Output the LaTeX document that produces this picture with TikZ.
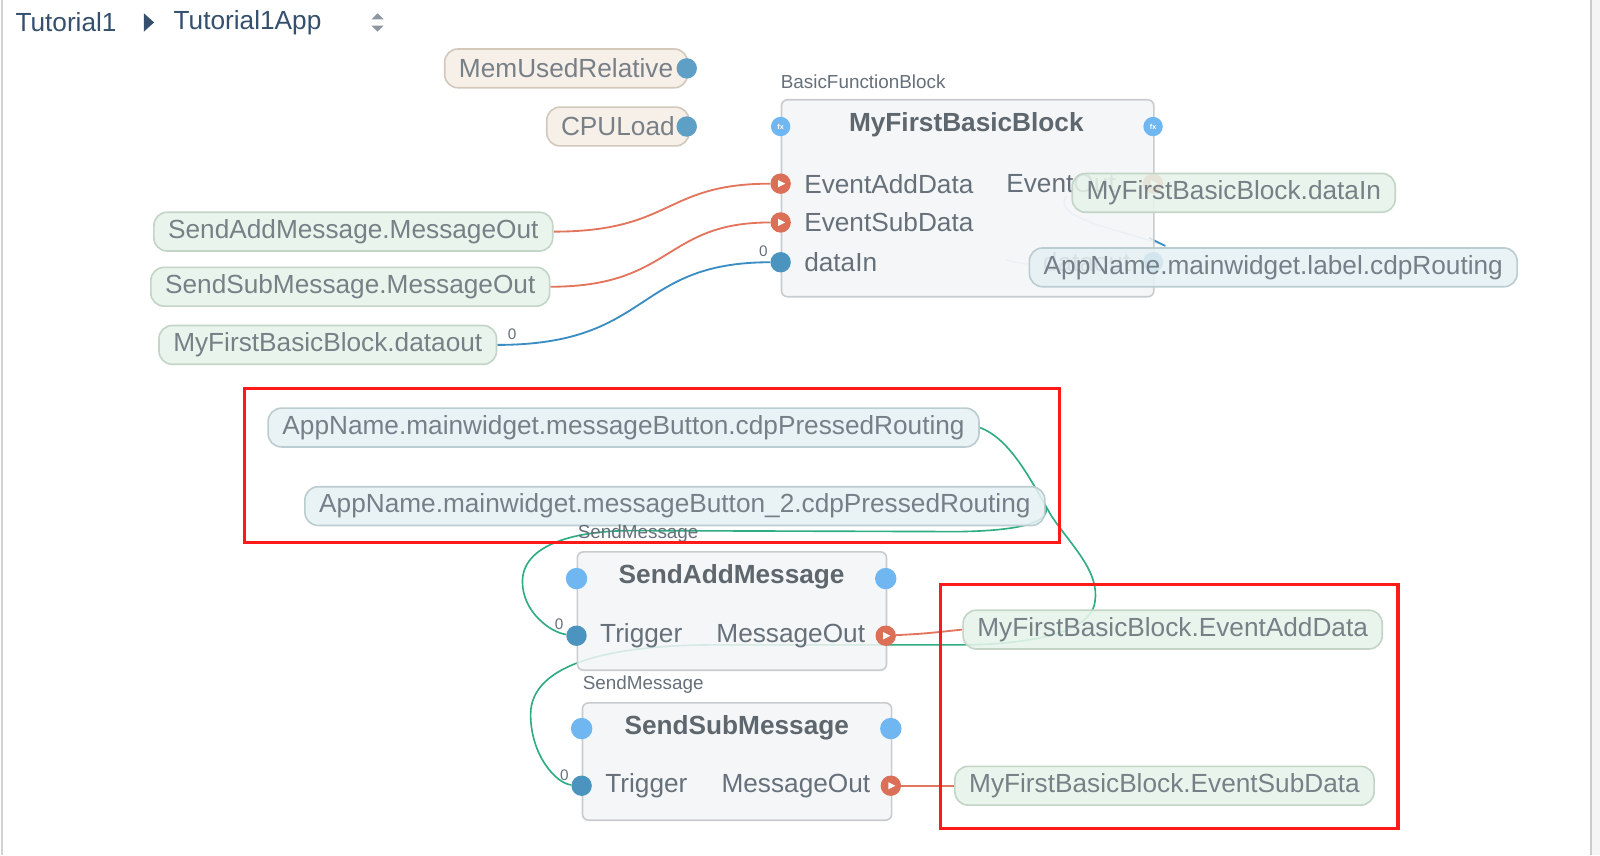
\documentclass[tikz,border=0pt]{standalone}
\usepackage{fontspec}
\setmainfont{Liberation Sans}
\usetikzlibrary{positioning, backgrounds, calc}
\definecolor{txtGray}{HTML}{66707A}
\definecolor{titleGray}{HTML}{5E666E}
\definecolor{crumbBlue}{HTML}{34506E}
\definecolor{crumbArrow}{HTML}{8B96A2}
\definecolor{pillGreen}{HTML}{E7F4EA}
\definecolor{pillGreenEdge}{HTML}{C3D5C7}
\definecolor{pillBlue}{HTML}{E6F1F4}
\definecolor{pillBlueEdge}{HTML}{BCCDD2}
\definecolor{pillBeige}{HTML}{F6EFE6}
\definecolor{pillBeigeEdge}{HTML}{D3C8BC}
\definecolor{blockFill}{HTML}{F3F5F7}
\definecolor{blockEdge}{HTML}{C9CCCF}
\definecolor{portRed}{HTML}{DB6F57}
\definecolor{portBlue}{HTML}{4B94BF}
\definecolor{portLight}{HTML}{70B7F2}
\definecolor{wireRed}{HTML}{E3755D}
\definecolor{wireBlue}{HTML}{3A8DC2}
\definecolor{wireGreen}{HTML}{2EAC82}
\definecolor{markRed}{HTML}{FF1A1A}
\newcommand{\nodefont}{\fontsize{25.7}{30}\selectfont}
\newcommand{\smallfont}{\fontsize{18.5}{22}\selectfont}
\newcommand{\zerofont}{\fontsize{15}{18}\selectfont}
\tikzset{
  pill/.style={rectangle, rounded corners=13pt, draw, line width=1.6pt,
               minimum height=38pt, inner xsep=14pt, inner ysep=0pt,
               font=\nodefont, text=txtGray, anchor=west, fill opacity=0.88},
  pillG/.style={pill, fill=pillGreen, draw=pillGreenEdge},
  pillB/.style={pill, fill=pillBlue, draw=pillBlueEdge},
  pillY/.style={pill, fill=pillBeige, draw=pillBeigeEdge},
  fblock/.style={rectangle, rounded corners=6pt, draw=blockEdge, line width=1.6pt,
                 fill=blockFill, fill opacity=0.85, anchor=north west, inner sep=0pt},
  portR/.style={circle, fill=portRed, minimum size=20pt, inner sep=0pt,
                path picture={\fill[white] ([shift={(-2.5pt,3.5pt)}]path picture bounding box.center)
                  -- ++(7pt,-3.5pt) -- ++(-7pt,-3.5pt) -- cycle;}},
  portD/.style={circle, fill=portBlue, minimum size=20pt, inner sep=0pt},
  portL/.style={circle, fill=portLight, minimum size=21pt, inner sep=0pt},
  portF/.style={portL, minimum size=19pt, font=\fontsize{7}{7}\selectfont\bfseries, text=white},
  portLbl/.style={font=\nodefont, text=txtGray, inner sep=0pt},
  blkTitle/.style={font=\nodefont\bfseries, text=titleGray, inner sep=0pt},
  typeLbl/.style={font=\smallfont, text=txtGray, anchor=west, inner sep=0pt},
  zero/.style={font=\zerofont, text=txtGray, inner sep=0pt},
  crumb/.style={font=\nodefont, text=crumbBlue, anchor=west, inner sep=0pt},
  wireR/.style={wireRed, line width=1.8pt},
  wireB/.style={wireBlue, line width=1.8pt},
  wireG/.style={wireGreen, line width=1.6pt},
  markbox/.style={markRed, line width=3pt},
}
\begin{document}
\begin{tikzpicture}[x=1pt, y=-1pt]
  \useasboundingbox (0,0) rectangle (1568,838);
  \draw[gray!35, line width=2pt] (1.5,0) -- (1.5,838);
  \fill[gray!8] (1559,0) rectangle (1568,838);
  \draw[gray!40, line width=1.5pt] (1559,0) -- (1559,838);

  % breadcrumb
  \node[crumb] (crumbA) at (15,22) {Tutorial1};
  \fill[crumbBlue] (141,13) -- (151,22) -- (141,31) -- cycle;
  \node[crumb] (crumbB) at (170,22) {Tutorial1App};
  \fill[crumbArrow] (364,19) -- (370,13) -- (376,19) -- cycle;
  \fill[crumbArrow] (364,25) -- (370,31) -- (376,25) -- cycle;

  % system values
  \node[pillY] (memUsed) at (435,67) {MemUsedRelative};
  \node[pillY] (cpuLoad) at (535,124) {CPULoad};
  \node[portD, fill=portBlue!90] (memPort) at (673,67) {};
  \node[portD, fill=portBlue!90] (cpuPort) at (673,124) {};

  % MyFirstBasicBlock
  \node[typeLbl] (fbType) at (765,80) {BasicFunctionBlock};
  \node[fblock, minimum width=365pt, minimum height=193pt] (fb) at (765,97) {};
  \node[blkTitle] (fbTitle) at (947,122) {MyFirstBasicBlock};
  \node[portF] (fbFxL) at (765,124) {fx};
  \node[portF] (fbFxR) at (1130,124) {fx};
  \node[portR] (fbEvAdd) at (765,180) {};
  \node[portR] (fbEvSub) at (765,218) {};
  \node[portD] (fbDataIn) at (765,257) {};
  \node[portR] (fbEvOut) at (1130,180) {};
  \node[portD] (fbDataOut) at (1130,257) {};
  \node[portLbl, anchor=west] at (788,180) {EventAddData};
  \node[portLbl, anchor=west] at (788,218) {EventSubData};
  \node[portLbl, anchor=west] at (788,257) {dataIn};
  \node[portLbl, anchor=west] at (986,180) {EventOut};
  \node[portLbl, anchor=east] at (1108,257) {dataout};
  \node[pillG] (fbInRef) at (1050,189) {MyFirstBasicBlock.dataIn};
  \node[pillB] (lblRouting) at (1008,262) {AppName.mainwidget.label.cdpRouting};

  % left references
  \node[pillG] (addOutRef) at (150,227) {SendAddMessage.MessageOut};
  \node[pillG] (subOutRef) at (147,281) {SendSubMessage.MessageOut};
  \node[pillG] (dataOutRef) at (155,338) {MyFirstBasicBlock.dataout};
  \node[zero] at (502,328) {0};
  \node[zero] at (748,246) {0};

  % buttons
  \node[pillB] (btnOne) at (262,419) {AppName.mainwidget.messageButton.cdpPressedRouting};
  \node[pillB] (btnTwo) at (298,496) {AppName.mainwidget.messageButton\_2.cdpPressedRouting};

  % SendAddMessage
  \node[typeLbl] (saType) at (566,523) {SendMessage};
  \node[fblock, minimum width=303pt, minimum height=116pt] (sa) at (565,540) {};
  \node[blkTitle] at (717,565) {SendAddMessage};
  \node[portL] (saL) at (565,567) {};
  \node[portL] (saR) at (868,567) {};
  \node[portD] (saTrig) at (565,623) {};
  \node[portR] (saOut) at (868,623) {};
  \node[portLbl, anchor=west] at (588,623) {Trigger};
  \node[portLbl, anchor=east] at (848,623) {MessageOut};
  \node[zero] at (548,612) {0};

  % SendSubMessage
  \node[typeLbl] (ssType) at (571,671) {SendMessage};
  \node[fblock, minimum width=303pt, minimum height=115pt] (ss) at (570,688) {};
  \node[blkTitle] at (722,713) {SendSubMessage};
  \node[portL] (ssL) at (570,714) {};
  \node[portL] (ssR) at (873,714) {};
  \node[portD] (ssTrig) at (570,770) {};
  \node[portR] (ssOut) at (873,770) {};
  \node[portLbl, anchor=west] at (593,770) {Trigger};
  \node[portLbl, anchor=east] at (853,770) {MessageOut};
  \node[zero] at (553,760) {0};

  % right references
  \node[pillG] (evAddRef) at (943,617) {MyFirstBasicBlock.EventAddData};
  \node[pillG] (evSubRef) at (935,770) {MyFirstBasicBlock.EventSubData};

  \coordinate (loopA) at (1142,241);
  \coordinate (loopB) at (1045,192);
  \coordinate (loopC) at (985,254);

  % connections
  \begin{pgfonlayer}{background}
    \fill[white] (0,0) rectangle (1568,838);
    \draw[wireR] (addOutRef.east) .. controls (660,227) and (650,180) .. (fbEvAdd);
    \draw[wireR] (subOutRef.east) .. controls (660,281) and (650,218) .. (fbEvSub);
    \draw[wireB] (dataOutRef.east) .. controls (640,338) and (620,257) .. (fbDataIn);
    \draw[wireB, opacity=0.35, line width=1.4pt] (loopA) .. controls (1100,225) and (1030,215) .. (loopB);
    \draw[wireB, line width=1.6pt] (1126,233) -- (loopA);
    \draw[wireB, opacity=0.3, line width=1.4pt] (loopC) .. controls (1000,262) and (1080,262) .. (fbDataOut);
    \draw[wireR] (saOut) .. controls (905,621) .. (evAddRef.west);
    \draw[wireR] (ssOut) -- (evSubRef.west);
    \draw[wireG] (btnOne.east) .. controls (990,430) and (1010,470) .. (1030,505)
      .. controls (1050,535) and (1078,560) .. (1073,590)
      .. controls (1068,625) and (990,632) .. (940,632) -- (700,632)
      .. controls (600,632) and (520,650) .. (520,700)
      .. controls (520,740) and (545,768) .. (ssTrig);
    \draw[wireG] (btnTwo.east) .. controls (1030,512) and (1000,520) .. (940,521) -- (620,520)
      .. controls (560,520) and (512,535) .. (512,570)
      .. controls (512,600) and (540,620) .. (saTrig);
  \end{pgfonlayer}

  % highlight boxes
  \draw[markbox] (240,381) rectangle (1038,532);
  \draw[markbox] (922,573) rectangle (1370,812);
\end{tikzpicture}
\end{document}
